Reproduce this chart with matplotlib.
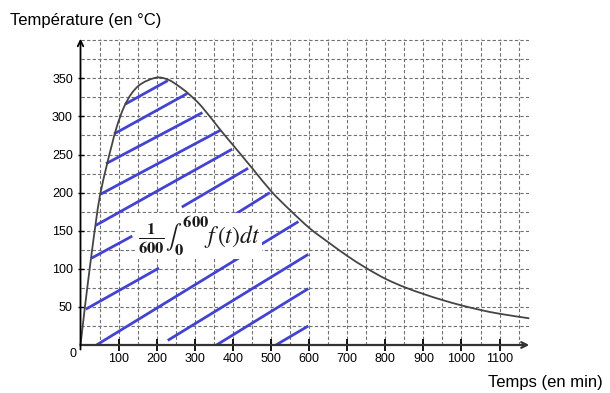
import matplotlib
matplotlib.use("Agg")
import matplotlib.pyplot as plt
from matplotlib.path import Path
from matplotlib.patches import PathPatch
import numpy as np

plt.rcParams['font.family'] = ['Liberation Sans', 'DejaVu Sans']
plt.rcParams['mathtext.fontset'] = 'stix'

# Curve (time in min, temperature in °C)
curve_t = [0, 10, 20, 30, 40, 51, 69, 82, 95, 113, 134, 160, 200, 231, 257,
           283, 318, 366, 401, 454, 502, 550, 602, 650, 700, 750, 800, 850,
           900, 950, 1000, 1050, 1100, 1178]
curve_v = [0, 43, 84, 123, 160, 196, 236, 262, 286, 311, 330, 343, 351, 348, 340,
           330, 313, 283, 262, 230, 201, 177, 153, 135, 117, 101, 87, 76,
           67, 59, 52, 46, 41, 35]

# Hatch segments (start t, start v, end t, end v)
hatch_t0 = [117, 88, 67, 53, 40, 266, 401, 29, 42, 14, 229, 357, 513]
hatch_v0 = [316, 277, 238, 198, 157, 181, 170, 114, 0, 47, 6, 0, 0]
hatch_t1 = [229, 280, 320, 368, 398, 440, 497, 136, 572, 206, 598, 598, 598]
hatch_v1 = [347, 330, 305, 282, 257, 232, 200, 143, 162, 101, 119, 74, 25]

xticks = [100, 200, 300, 400, 500, 600, 700, 800, 900, 1000, 1100]
yticks = [50, 100, 150, 200, 250, 300, 350]
xmax, ymax = 1178, 402

fig = plt.figure(figsize=(6.10, 3.93), dpi=100)
ax = fig.add_axes([80.5/610, 48/393, (529.3-80.5)/610, (345-38.7)/393])
ax.set_xlim(0, xmax)
ax.set_ylim(0, ymax)

# grid
for gx in np.arange(50, 1151, 50):
    ax.axvline(gx, color='#707070', lw=0.8, ls=(0, (3, 2)), zorder=1)
for gy in np.arange(25, 401, 25):
    ax.axhline(gy, color='#707070', lw=0.8, ls=(0, (3, 2)), zorder=1)

for s in ax.spines.values():
    s.set_visible(False)

# hatching
for a, b, c, d in zip(hatch_t0, hatch_v0, hatch_t1, hatch_v1):
    ax.plot([a, c], [b, d], color='#4343d2', lw=2.0, solid_capstyle='butt', zorder=3)

# curve drawn as a smooth path through the read points (Catmull-Rom as Bezier)
pts = np.column_stack([curve_t, curve_v]).astype(float)
sx, sy = 0.381, 0.762
P = pts * [sx, sy]
verts = [tuple(pts[0])]
codes = [Path.MOVETO]
n = len(P)
for i in range(n - 1):
    p0 = P[i - 1] if i > 0 else P[i]
    p1 = P[i]
    p2 = P[i + 1]
    p3 = P[i + 2] if i + 2 < n else P[i + 1]
    c1 = p1 + (p2 - p0) / 6.0
    c2 = p2 - (p3 - p1) / 6.0
    for q in (c1, c2, p2):
        verts.append((q[0] / sx, q[1] / sy))
        codes.append(Path.CURVE4)
ax.add_patch(PathPatch(Path(verts, codes), facecolor='none', edgecolor='#454545',
                       lw=1.3, zorder=4, clip_on=False))

# axes with arrows
ax.annotate('', xy=(xmax, 0), xytext=(0, 0), xycoords='data',
            arrowprops=dict(arrowstyle='->', color='#333333', lw=1.6,
                            shrinkA=0, shrinkB=0, mutation_scale=10),
            annotation_clip=False, zorder=5)
ax.annotate('', xy=(0, ymax), xytext=(0, -6), xycoords='data',
            arrowprops=dict(arrowstyle='->', color='black', lw=1.3,
                            shrinkA=0, shrinkB=0, mutation_scale=10),
            annotation_clip=False, zorder=5)

ax.set_xticks(xticks)
ax.set_yticks(yticks)
ax.tick_params(axis='x', direction='inout', length=8, width=1.3, color='black',
               labelsize=9, pad=2)
ax.tick_params(axis='y', direction='inout', length=5, width=1.0, color='black',
               labelsize=9, pad=3)
ax.text(-10, -4, '0', ha='right', va='top', fontsize=9, transform=ax.transData)

# formula with white box
ax.text(312, 143,
        r'$\frac{\mathbf{1}}{\mathbf{600}}\int_{\mathbf{0}}^{\mathbf{600}}f\,(t)dt$',
        ha='center', va='center', fontsize=17, color='#1a1a1a', zorder=6,
        bbox=dict(facecolor='white', edgecolor='none', pad=1))

fig.text(10/610, 1 - 20/393, 'Température (en °C)', ha='left', va='center', fontsize=12)
fig.text(603/610, 1 - 383/393, 'Temps (en min)', ha='right', va='center', fontsize=12)

fig.savefig('out.png', dpi=100)
